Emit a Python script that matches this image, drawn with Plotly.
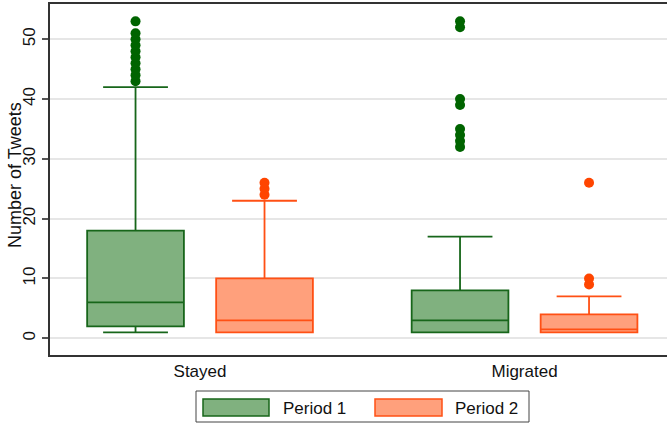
import plotly.graph_objects as go

# Groups on the x axis and the two periods compared within each group
groups = ["Stayed", "Migrated"]
periods = ["Period 1", "Period 2"]

# Box summaries for Period 1 (Stayed, Migrated)
p1_lower = [1, 1]
p1_q1 = [2, 1]
p1_median = [6, 3]
p1_q3 = [18, 8]
p1_upper = [42, 17]
p1_outliers = [
    [43, 44, 45, 46, 47, 48, 49, 50, 51, 53],
    [32, 33, 34, 35, 39, 40, 52, 53],
]

# Box summaries for Period 2 (Stayed, Migrated)
p2_lower = [1, 1]
p2_q1 = [1, 1]
p2_median = [3, 1.5]
p2_q3 = [10, 4]
p2_upper = [23, 7]
p2_outliers = [
    [24, 25, 26],
    [9, 10, 26],
]

y_ticks = [0, 10, 20, 30, 40, 50]

FONT = "Liberation Sans, Arial, Helvetica, sans-serif"
TXT = "#111111"

styles = {
    "Period 1": dict(line="#17661a", fill="#80b17f", dot="#006400"),
    "Period 2": dict(line="#ff5014", fill="#ffa07c", dot="#ff4500"),
}

series = {
    "Period 1": (p1_lower, p1_q1, p1_median, p1_q3, p1_upper, p1_outliers),
    "Period 2": (p2_lower, p2_q1, p2_median, p2_q3, p2_upper, p2_outliers),
}

fig = go.Figure()
for name in periods:
    lo, q1, med, q3, up, outl = series[name]
    st = styles[name]
    fig.add_trace(go.Box(
        name=name,
        x=groups,
        y=outl,
        q1=q1,
        median=med,
        q3=q3,
        lowerfence=lo,
        upperfence=up,
        boxpoints="outliers",
        jitter=0,
        pointpos=0,
        whiskerwidth=0.67,
        fillcolor=st["fill"],
        line=dict(color=st["line"], width=1.8),
        marker=dict(color=st["dot"], size=10, line=dict(width=0)),
        showlegend=False,
    ))

# Plot-area geometry (pixels) used to place the legend and axis title
W, H = 667, 423
ML, MR, MT, MB = 50, 0, 4, 68
PW, PH = W - ML - MR, H - MT - MB


def px(x):
    return (x - ML) / PW


def py(y):
    return (H - MB - y) / PH


shapes = [
    # legend frame
    dict(type="rect", xref="paper", yref="paper",
         x0=px(196), x1=px(529), y0=py(422), y1=py(391),
         line=dict(color="#444444", width=1), fillcolor="white", layer="above"),
]
annotations = []
swatch_x = [(203, 269), (375, 442)]
label_x = [281, 453]
for name, (sx0, sx1), lx in zip(periods, swatch_x, label_x):
    st = styles[name]
    shapes.append(dict(type="rect", xref="paper", yref="paper",
                       x0=px(sx0), x1=px(sx1), y0=py(416), y1=py(399),
                       line=dict(color=st["line"], width=1.5),
                       fillcolor=st["fill"], layer="above"))
    annotations.append(dict(text=name, xref="paper", yref="paper",
                            x=px(lx), y=py(408), xanchor="left", yanchor="middle",
                            showarrow=False, font=dict(family=FONT, size=17, color=TXT)))

# y-axis title
annotations.append(dict(text="Number of Tweets", xref="paper", yref="paper",
                        x=px(15), y=py(175), xanchor="center", yanchor="middle",
                        textangle=-90, showarrow=False,
                        font=dict(family=FONT, size=18, color=TXT)))

fig.update_layout(
    width=W, height=H,
    margin=dict(l=ML, r=MR, t=MT, b=MB, pad=0),
    paper_bgcolor="white", plot_bgcolor="white",
    boxmode="group", boxgap=0.205, boxgroupgap=0.25,
    font=dict(family=FONT, size=17, color=TXT),
    shapes=shapes, annotations=annotations,
    showlegend=False,
)
fig.update_xaxes(
    type="category", range=[-0.4623, 1.439],
    showline=True, linecolor="#333333", linewidth=1.8, mirror=True,
    showgrid=False, ticks="", tickfont=dict(family=FONT, size=17, color=TXT),
)
fig.update_yaxes(
    range=[-2.8, 55.9], tickvals=y_ticks,
    showline=True, linecolor="#333333", linewidth=1.8, mirror=False,
    showgrid=True, gridcolor="#e6e6e6", gridwidth=1.5, zeroline=False,
    ticks="outside", ticklen=6, tickwidth=1.5, tickcolor="#555555",
    tickangle=-90, tickfont=dict(family=FONT, size=17, color=TXT),
)

fig.write_html("out.html")
